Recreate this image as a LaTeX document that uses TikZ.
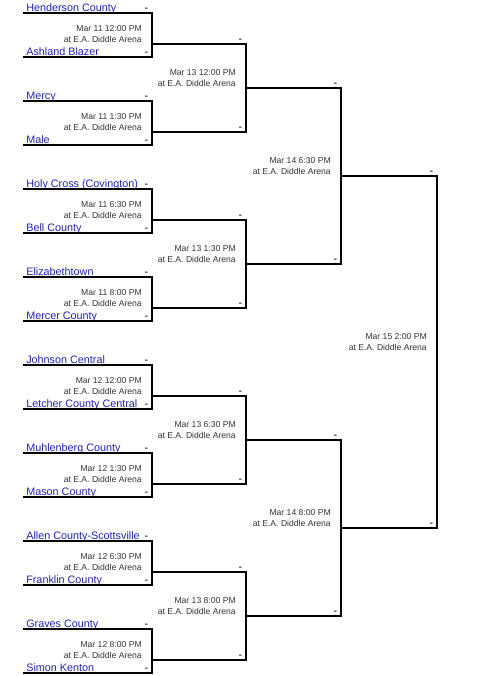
\documentclass[tikz,border=0pt]{standalone}
\usepackage{fontspec}
\setmainfont{Liberation Sans}
\usepackage{xcolor}
\usetikzlibrary{calc}
\definecolor{linkblue}{RGB}{32,32,192}
\definecolor{datetext}{RGB}{51,51,51}
\newcommand{\team}[1]{\underline{\smash{\kern1.9pt#1}}}

\begin{document}
\begin{tikzpicture}[x=0.75pt,y=-0.75pt,
  team/.style={anchor=base west,inner sep=0pt,text=linkblue,font={\fontsize{8.1}{9.7}\selectfont}},
  game/.style={anchor=north east,inner sep=0pt,align=right,text=datetext,font={\fontsize{6.45}{8.25}\selectfont}},
  score/.style={anchor=base,inner sep=0pt,font={\fontsize{8.1}{9.7}\selectfont}},
  bracket/.style={line width=1pt}]
\useasboundingbox (0,0) rectangle (503,676);
% first round lines
\coordinate (a1) at (23,13);   \coordinate (a2) at (23,57);
\coordinate (a3) at (23,101);  \coordinate (a4) at (23,145);
\coordinate (a5) at (23,189);  \coordinate (a6) at (23,233);
\coordinate (a7) at (23,277);  \coordinate (a8) at (23,321);
\coordinate (a9) at (23,365);  \coordinate (a10) at (23,409);
\coordinate (a11) at (23,453); \coordinate (a12) at (23,497);
\coordinate (a13) at (23,541); \coordinate (a14) at (23,585);
\coordinate (a15) at (23,629); \coordinate (a16) at (23,673);
% winners
\coordinate (w1) at (152,44);  \coordinate (w2) at (152,132);
\coordinate (w3) at (152,220); \coordinate (w4) at (152,308);
\coordinate (w5) at (152,396); \coordinate (w6) at (152,484);
\coordinate (w7) at (152,572); \coordinate (w8) at (152,660);
\coordinate (w9) at (246,88);  \coordinate (w10) at (246,264);
\coordinate (w11) at (246,440); \coordinate (w12) at (246,616);
\coordinate (w13) at (341,176); \coordinate (w14) at (341,528);
\coordinate (w15) at (437,352);
% teams
\node[team] (henderson) at ($(a1)+(0.5,-2)$) {\team{Henderson County}};
\node[team] (ashland) at ($(a2)+(0.5,-2)$) {\team{Ashland Blazer}};
\node[team] (mercy) at ($(a3)+(0.5,-2)$) {\team{Mercy}};
\node[team] (male) at ($(a4)+(0.5,-2)$) {\team{Male}};
\node[team] (holycross) at ($(a5)+(0.5,-2)$) {\team{Holy Cross (Covington)}};
\node[team] (bell) at ($(a6)+(0.5,-2)$) {\team{Bell County}};
\node[team] (etown) at ($(a7)+(0.5,-2)$) {\team{Elizabethtown}};
\node[team] (mercer) at ($(a8)+(0.5,-2)$) {\team{Mercer County}};
\node[team] (johnson) at ($(a9)+(0.5,-2)$) {\team{Johnson Central}};
\node[team] (letcher) at ($(a10)+(0.5,-2)$) {\team{Letcher County Central}};
\node[team] (muhlenberg) at ($(a11)+(0.5,-2)$) {\team{Muhlenberg County}};
\node[team] (mason) at ($(a12)+(0.5,-2)$) {\team{Mason County}};
\node[team] (allen) at ($(a13)+(0.5,-2)$) {\team{Allen County-Scottsville}};
\node[team] (franklin) at ($(a14)+(0.5,-2)$) {\team{Franklin County}};
\node[team] (graves) at ($(a15)+(0.5,-2)$) {\team{Graves County}};
\node[team] (kenton) at ($(a16)+(0.5,-2)$) {\team{Simon Kenton}};
% bracket
\draw[bracket] (a1) -| (w1) |- (a2);
\draw[bracket] (a3) -| (w2) |- (a4);
\draw[bracket] (a5) -| (w3) |- (a6);
\draw[bracket] (a7) -| (w4) |- (a8);
\draw[bracket] (a9) -| (w5) |- (a10);
\draw[bracket] (a11) -| (w6) |- (a12);
\draw[bracket] (a13) -| (w7) |- (a14);
\draw[bracket] (a15) -| (w8) |- (a16);
\draw[bracket] (w1) -| (w9) |- (w2);
\draw[bracket] (w3) -| (w10) |- (w4);
\draw[bracket] (w5) -| (w11) |- (w6);
\draw[bracket] (w7) -| (w12) |- (w8);
\draw[bracket] (w9) -| (w13) |- (w10);
\draw[bracket] (w11) -| (w14) |- (w12);
\draw[bracket] (w13) -| (w15) |- (w14);
% scores
\foreach \y [count=\i] in {13,57,...,673} \node[score] (s1-\i) at (146.5,\y-2) {-};
\foreach \y [count=\i] in {44,132,...,660} \node[score] (s2-\i) at (240.5,\y-2) {-};
\foreach \y [count=\i] in {88,264,440,616} \node[score] (s3-\i) at (335.5,\y-2) {-};
\foreach \y [count=\i] in {176,528} \node[score] (s4-\i) at (431.5,\y-2) {-};
% games
\node[game] (g1) at ($(w1)+(-10,-19)$) {Mar 11 12:00 PM\\at E.A. Diddle Arena};
\node[game] (g2) at ($(w2)+(-10,-19)$) {Mar 11 1:30 PM\\at E.A. Diddle Arena};
\node[game] (g3) at ($(w3)+(-10,-19)$) {Mar 11 6:30 PM\\at E.A. Diddle Arena};
\node[game] (g4) at ($(w4)+(-10,-19)$) {Mar 11 8:00 PM\\at E.A. Diddle Arena};
\node[game] (g5) at ($(w5)+(-10,-19)$) {Mar 12 12:00 PM\\at E.A. Diddle Arena};
\node[game] (g6) at ($(w6)+(-10,-19)$) {Mar 12 1:30 PM\\at E.A. Diddle Arena};
\node[game] (g7) at ($(w7)+(-10,-19)$) {Mar 12 6:30 PM\\at E.A. Diddle Arena};
\node[game] (g8) at ($(w8)+(-10,-19)$) {Mar 12 8:00 PM\\at E.A. Diddle Arena};
\node[game] (g9) at ($(w9)+(-10,-19)$) {Mar 13 12:00 PM\\at E.A. Diddle Arena};
\node[game] (g10) at ($(w10)+(-10,-19)$) {Mar 13 1:30 PM\\at E.A. Diddle Arena};
\node[game] (g11) at ($(w11)+(-10,-19)$) {Mar 13 6:30 PM\\at E.A. Diddle Arena};
\node[game] (g12) at ($(w12)+(-10,-19)$) {Mar 13 8:00 PM\\at E.A. Diddle Arena};
\node[game] (g13) at ($(w13)+(-10,-19)$) {Mar 14 6:30 PM\\at E.A. Diddle Arena};
\node[game] (g14) at ($(w14)+(-10,-19)$) {Mar 14 8:00 PM\\at E.A. Diddle Arena};
\node[game] (g15) at ($(w15)+(-10,-19)$) {Mar 15 2:00 PM\\at E.A. Diddle Arena};
\end{tikzpicture}
\end{document}
